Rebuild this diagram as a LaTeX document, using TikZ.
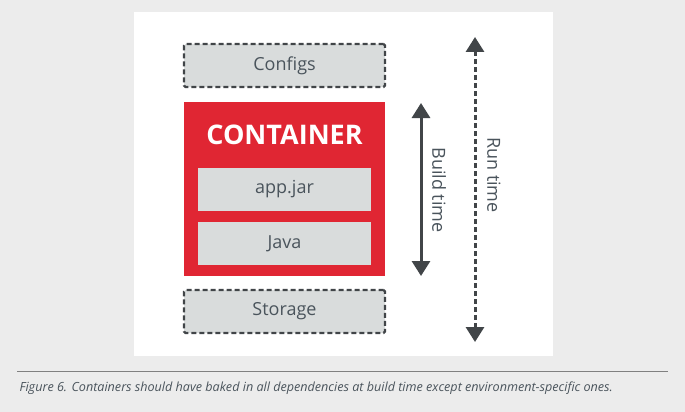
\documentclass[tikz,border=0pt]{standalone}
\usepackage{fontspec}
\setmainfont{Open Sans}
\usetikzlibrary{arrows.meta,positioning}

\definecolor{rhred}{HTML}{E02633}
\definecolor{boxgrey}{HTML}{D9DCDC}
\definecolor{darkgrey}{HTML}{414548}
\definecolor{bggrey}{HTML}{ECECEC}
\definecolor{txtgrey}{HTML}{4A545C}

\tikzset{
  optbox/.style={draw=darkgrey, line width=2.2pt, dash pattern=on 5pt off 3pt,
    rounded corners=1.5pt, fill=boxgrey, minimum width=201pt, minimum height=43pt,
    text=txtgrey, font=\fontsize{18}{20}\selectfont},
  layerbox/.style={fill=boxgrey, minimum width=173pt, minimum height=43pt,
    text=txtgrey, font=\fontsize{18}{20}\selectfont},
  timearrow/.style={draw=darkgrey, line width=3pt,
    {Triangle[width=18pt,length=15pt]}-{Triangle[width=18pt,length=15pt]}},
  timelabel/.style={rotate=-90, text=txtgrey, font=\fontsize{18}{20}\selectfont},
}

\begin{document}
\begin{tikzpicture}[x=1pt,y=-1pt]
% background and panel
\fill[bggrey] (0,0) rectangle (685,412);
\fill[white] (134,12) rectangle (553,356);

% boxes
\node[optbox] (configs) at (284.5,65.5) {Configs};
\node[fill=rhred, minimum width=201pt, minimum height=174pt] (container) at (284.5,189) {};
\node[text=white, font=\fontsize{27}{29}\bfseries] (title) at (284.5,135) {CONTAINER};
\node[layerbox] (appjar) at (284.5,189.5) {app.jar};
\node[layerbox] (java) at (284.5,243.5) {Java};
\node[optbox] (storage) at (284.5,311.5) {Storage};

% time arrows
\coordinate (buildtop) at (421,103);
\coordinate (buildbot) at (421,276);
\coordinate (runtop) at (475,37);
\coordinate (runbot) at (475,342);
\draw[timearrow] (buildtop) -- (buildbot);
\draw[timearrow, dash pattern=on 5pt off 3pt] (runtop) -- (runbot);
\node[timelabel] (buildlabel) at (439,190) {Build time};
\node[timelabel] (runlabel) at (494,175) {Run time};

% caption
\coordinate (ruleleft) at (17,371);
\coordinate (ruleright) at (668,371);
\draw[gray, line width=0.8pt] (ruleleft) -- (ruleright);
\node[anchor=west, text=txtgrey, font=\fontsize{12.6}{14}\itshape] (caption) at (16,388)
  {Figure 6. Containers should have baked in all dependencies at build time except environment-specific ones.};
\end{tikzpicture}
\end{document}
